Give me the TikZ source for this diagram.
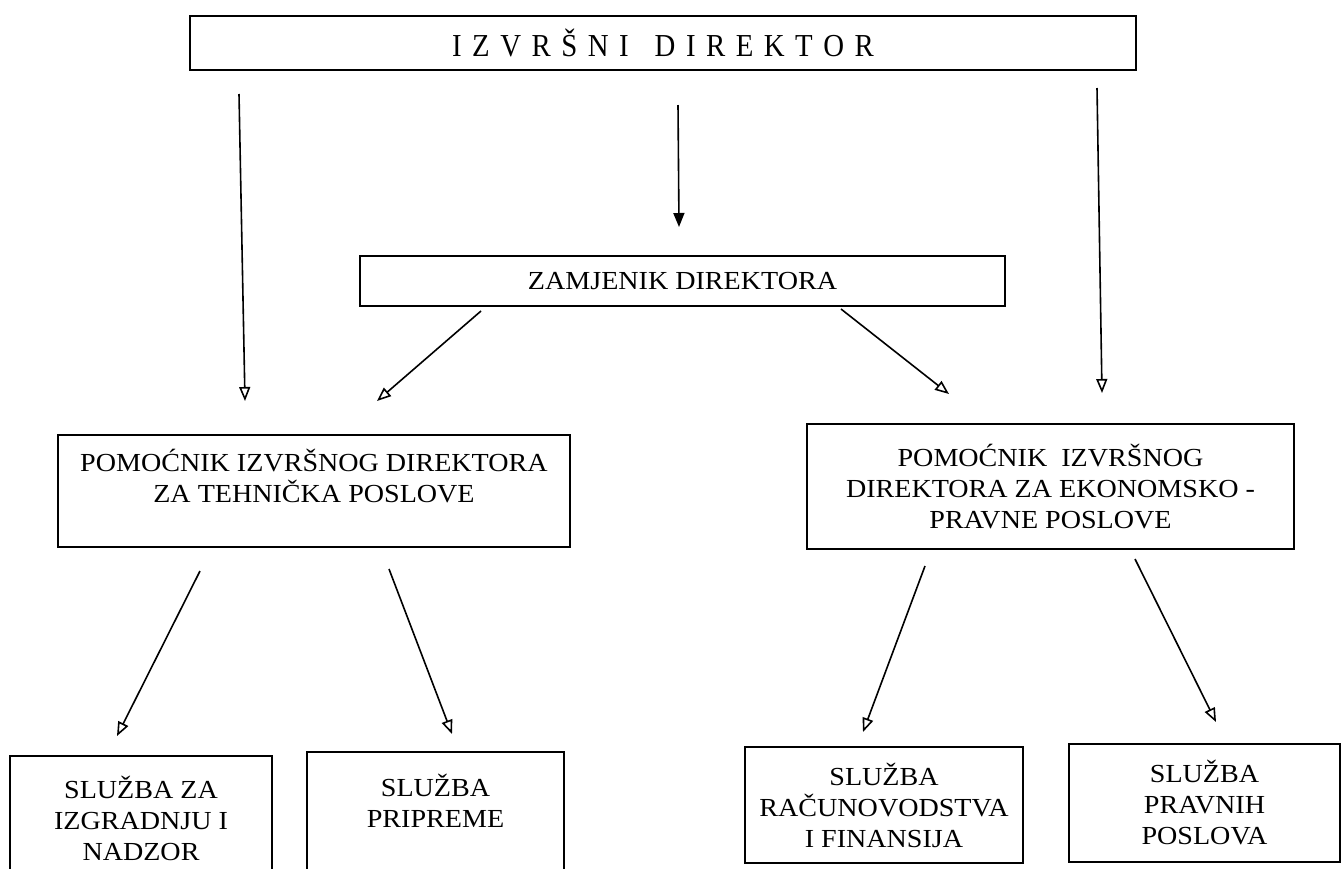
\documentclass[tikz,border=0pt]{standalone}
\usepackage{fontspec}
\setmainfont{Liberation Serif}[FakeStretch=1.08]
\newfontfamily\titlefont{Liberation Serif}[FakeStretch=0.9]
\usetikzlibrary{arrows.meta}
\newcommand\lsp{\kern10.5pt}
\tikzset{
  box/.style={draw, line width=2.2pt, rectangle, inner sep=0pt, align=center,
    font=\fontsize{26}{31}\selectfont},
  arr/.style={line width=1.6pt, -{Triangle[open, length=14pt, width=11pt, line width=1.6pt]}},
  arrfill/.style={line width=1.6pt, -{Triangle[length=14pt, width=11pt]}}
}
\begin{document}
\begin{tikzpicture}[x=1pt,y=-1pt]
\useasboundingbox (0,0) rectangle (1343,868);
\fill[white] (0,0) rectangle (1343,868);

% boxes
\node[box, minimum width=946pt, minimum height=54pt] (top) at (663,43)
  {\titlefont\fontsize{32}{32}\selectfont I\lsp Z\lsp V\lsp R\lsp Š\lsp N\lsp I\kern26pt D\lsp I\lsp R\lsp E\lsp K\lsp T\lsp O\lsp R};
\node[box, minimum width=645pt, minimum height=50pt] (zam) at (682.5,281)
  {ZAMJENIK DIREKTORA};
\node[box, minimum width=512pt, minimum height=112pt] (pl) at (314,491)
  {POMOĆNIK IZVRŠNOG DIREKTORA\\ZA TEHNIČKA POSLOVE\\\mbox{}};
\node[box, minimum width=487pt, minimum height=125pt] (pr) at (1050.5,486.5)
  {POMOĆNIK\ \ IZVRŠNOG\\DIREKTORA ZA EKONOMSKO -\\PRAVNE POSLOVE};
\node[box, minimum width=262pt, minimum height=124pt] (b1) at (141,818)
  {SLUŽBA ZA\\IZGRADNJU I\\NADZOR};
\node[box, minimum width=257pt, minimum height=128pt] (b2) at (435.5,816)
  {SLUŽBA\\PRIPREME\\\mbox{}};
\node[box, minimum width=278pt, minimum height=116pt] (b3) at (884,805)
  {SLUŽBA\\RAČUNOVODSTVA\\I FINANSIJA};
\node[box, minimum width=271pt, minimum height=118pt] (b4) at (1204.5,803)
  {SLUŽBA\\PRAVNIH\\POSLOVA};

% arrow end points
\coordinate (a1s) at (239,94);   \coordinate (a1e) at (245,401);
\coordinate (a2s) at (678,105);  \coordinate (a2e) at (679,227);
\coordinate (a3s) at (1097,88);  \coordinate (a3e) at (1102,393);
\coordinate (d1s) at (481,311);  \coordinate (d1e) at (377,401);
\coordinate (d2s) at (841,309);  \coordinate (d2e) at (949,394);
\coordinate (l1s) at (200,571);  \coordinate (l1e) at (117,736);
\coordinate (l2s) at (389,569);  \coordinate (l2e) at (452,734);
\coordinate (r1s) at (925,566);  \coordinate (r1e) at (863,732);
\coordinate (r2s) at (1135,559); \coordinate (r2e) at (1216,722);

\draw[arr] (a1s) -- (a1e);
\draw[arrfill] (a2s) -- (a2e);
\draw[arr] (a3s) -- (a3e);
\draw[arr] (d1s) -- (d1e);
\draw[arr] (d2s) -- (d2e);
\draw[arr] (l1s) -- (l1e);
\draw[arr] (l2s) -- (l2e);
\draw[arr] (r1s) -- (r1e);
\draw[arr] (r2s) -- (r2e);
\end{tikzpicture}
\end{document}
